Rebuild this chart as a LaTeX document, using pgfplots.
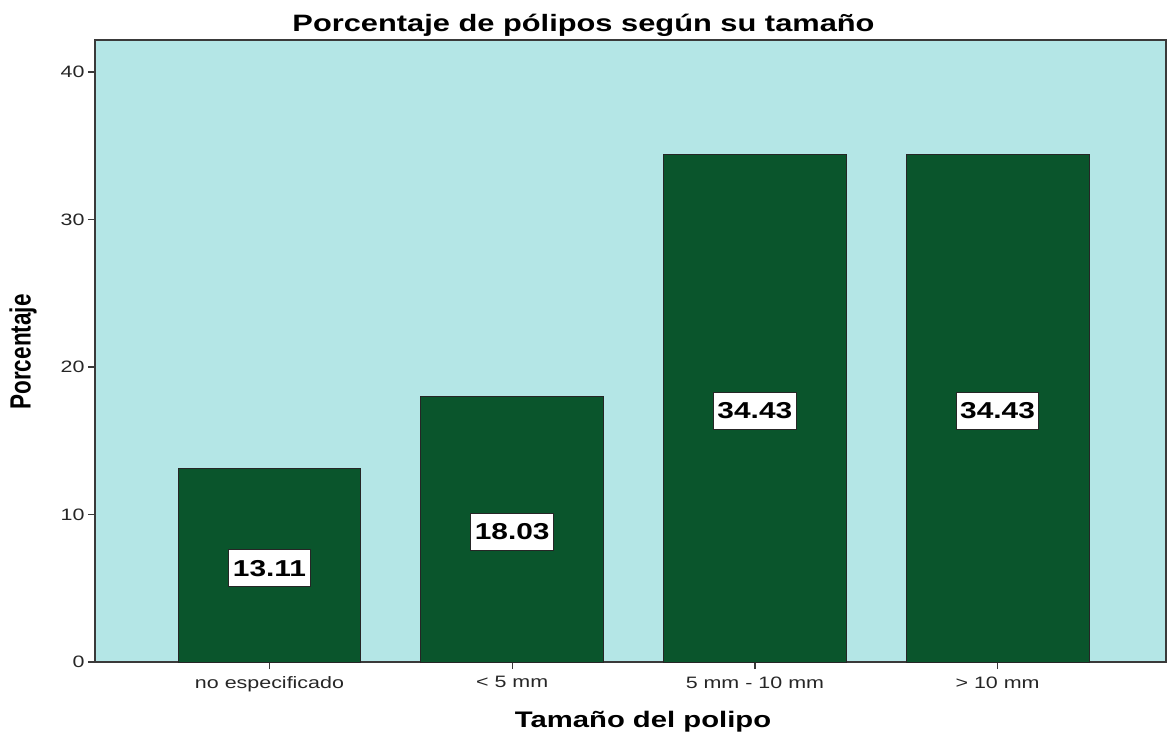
\documentclass[border=0pt]{standalone}
\usepackage{fontspec}
\setmainfont{Liberation Sans}[FakeStretch=1.3]
\newfontfamily\uprightlabel{Liberation Sans}
\usepackage{pgfplots}
\pgfplotsset{compat=1.18}
\usepackage{pgfplotstable}

\definecolor{plotbg}{HTML}{B4E6E6}
\definecolor{bargreen}{HTML}{0A552C}
\definecolor{axisgray}{HTML}{3A3A3A}

% Porcentaje de pólipos por categoría de tamaño
\pgfplotstableread{
x y
0 13.11
1 18.03
2 34.43
3 34.43
}\polyps

\begin{document}
\begin{tikzpicture}
\useasboundingbox (-95pt,-72pt) rectangle (1072pt,662pt);
\begin{axis}[
  at={(0,0)}, anchor=south west,
  scale only axis, width=1071pt, height=622pt,
  xmin=-0.719, xmax=3.694, ymin=0, ymax=42.17,
  axis background/.style={fill=plotbg},
  axis line style={draw=axisgray, line width=1.3pt},
  xtick={0,1,2,3},
  xticklabels={no especificado, < 5 mm, 5 mm - 10 mm, > 10 mm},
  ytick={0,10,20,30,40},
  tick align=outside, tick pos=left,
  major tick length=7pt,
  tick style={draw=axisgray, line width=1.3pt},
  ticklabel style={font=\fontsize{16.5}{18}\selectfont, text=black!85},
  /pgf/number format/assume math mode=true,
  xticklabel style={yshift=-4pt},
]
\addplot[ybar, bar width=0.754, fill=bargreen, draw=black!85, line width=1pt]
  table[x=x, y=y] {\polyps};
\addplot[draw=none, mark=none, forget plot,
  nodes near coords, point meta=explicit,
  nodes near coords align=center,
  every node near coord/.append style={
    anchor=center, yshift=-3pt,
    fill=white, draw=black!85, line width=1pt,
    inner xsep=4pt, minimum height=37pt,
    font=\bfseries\fontsize{23}{26}\selectfont,
    /pgf/number format/.cd, fixed, fixed zerofill, precision=2,
    assume math mode=true},
  ]
  table[x=x, y expr=\thisrow{y}/2, meta=y] {\polyps};
\end{axis}
\node[font=\bfseries\fontsize{23.7}{26}\selectfont] at (488.5pt,637pt)
  {Porcentaje de pólipos según su tamaño};
\node[font=\bfseries\fontsize{22.5}{26}\selectfont] at (548pt,-60pt)
  {Tamaño del polipo};
\node[font=\uprightlabel\bfseries\fontsize{22.5}{26}\selectfont, rotate=90, yscale=1.3]
  at (-72pt,310pt) {Porcentaje};
\end{tikzpicture}
\end{document}
